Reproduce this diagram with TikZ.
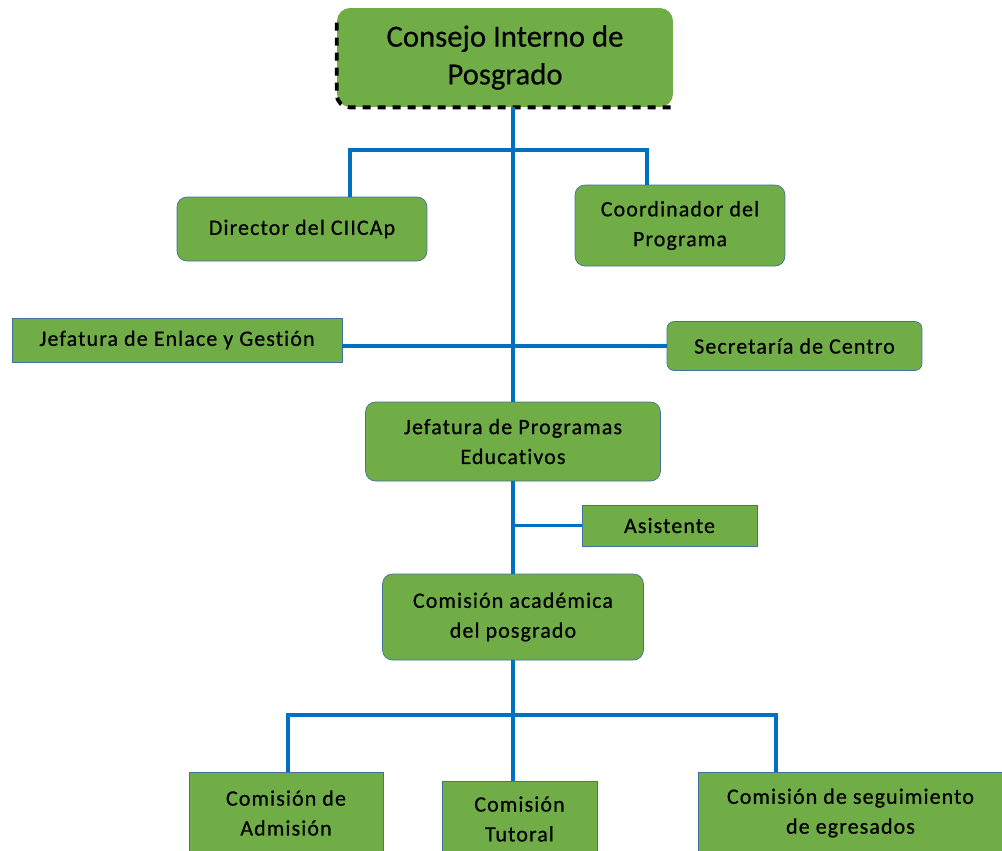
\documentclass[tikz,border=0pt]{standalone}
\usepackage{fontspec}
\setmainfont[Ligatures=NoCommon]{Carlito}
\usetikzlibrary{positioning}
\definecolor{boxgreen}{HTML}{70AD47}
\definecolor{boxline}{HTML}{41719C}
\definecolor{linkblue}{HTML}{0070C0}

\begin{document}
\begin{tikzpicture}[
    x=0.02cm, y=-0.02cm,
    box/.style={rectangle, draw=boxline, fill=boxgreen, rounded corners=0.2cm, align=center, inner sep=2pt,
        font=\fontsize{12.5}{17}\selectfont\addfontfeature{LetterSpace=5,FakeBold=0.6}},
    flatbox/.style={box, sharp corners},
    trunk/.style={draw=linkblue, line width=1.8pt},
    bar/.style={draw=linkblue, line width=2.6pt},
    dashbox/.style={draw=black, line width=2.2pt, dash pattern=on 0.16cm off 0.14cm}
]
    \useasboundingbox (0,0) rectangle (1002,850);
    \clip (0,0) rectangle (1002,850);

    % Consejo
    \node[box, draw=none, rounded corners=0.26cm, minimum width=6.72cm, minimum height=1.98cm,
        font=\fontsize{17.5}{21.5}\selectfont\addfontfeature{FakeBold=0.4}] (consejo) at (505,57.5) {
        Consejo Interno de\\
        Posgrado
    };
    \draw[dashbox, rounded corners=0.26cm] ([yshift=-0.3cm]consejo.north west) -- (consejo.south west) -- (consejo.south east);

    % Second level
    \node[box, minimum width=5cm, minimum height=1.28cm] (director) at (302,229) {Director del CIICAp};
    \node[box, minimum width=4.2cm, minimum height=1.62cm] (coordinador) at (680,225.5) {
        Coordinador del\\
        Programa
    };

    % Staff
    \node[flatbox, minimum width=6.6cm, minimum height=0.88cm] (enlace) at (177,340) {Jefatura de Enlace y Gestión};
    \node[box, rounded corners=0.14cm, minimum width=5.1cm, minimum height=0.98cm] (secretaria) at (794.5,346) {Secretaría de Centro};

    % Jefatura
    \node[box, minimum width=5.9cm, minimum height=1.58cm] (jefatura) at (513,441.5) {
        Jefatura de Programas\\
        Educativos
    };
    \node[flatbox, minimum width=3.5cm, minimum height=0.82cm] (asistente) at (669.5,525.5) {Asistente};

    % Academic commission
    \node[box, minimum width=5.22cm, minimum height=1.72cm] (academica) at (513,617) {
        Comisión académica\\
        del posgrado
    };

    % Commissions
    \node[flatbox, minimum width=3.88cm, minimum height=1.64cm] (admision) at (286,813) {
        Comisión de\\
        Admisión
    };
    \node[flatbox, minimum width=3.1cm, minimum height=1.52cm] (tutoral) at (519.5,819) {
        Comisión\\
        Tutoral
    };
    \node[flatbox, minimum width=6.1cm, minimum height=1.64cm] (egresados) at (850.5,813) {
        Comisión de seguimiento\\
        de egresados
    };

    % Connectors
    \coordinate (dirbend) at (350,150);
    \coordinate (cordbend) at (647,150);
    \coordinate (admbend) at (288,715);
    \coordinate (egrbend) at (776,715);

    \draw[trunk] (consejo.south -| jefatura.north) -- (jefatura.north);
    \draw[bar] (director.north -| dirbend) -- (dirbend) -- (cordbend) -- (coordinador.north -| cordbend);
    \draw[trunk] (enlace.east |- secretaria.west) -- (secretaria.west);
    \draw[trunk] (jefatura.south) -- (academica.north);
    \draw[trunk] (asistente.west -| jefatura.south) -- (asistente.west);
    \draw[trunk] (academica.south) -- (tutoral.north -| academica.south);
    \draw[bar] (admision.north -| admbend) -- (admbend) -- (egrbend) -- (egresados.north -| egrbend);
\end{tikzpicture}
\end{document}
